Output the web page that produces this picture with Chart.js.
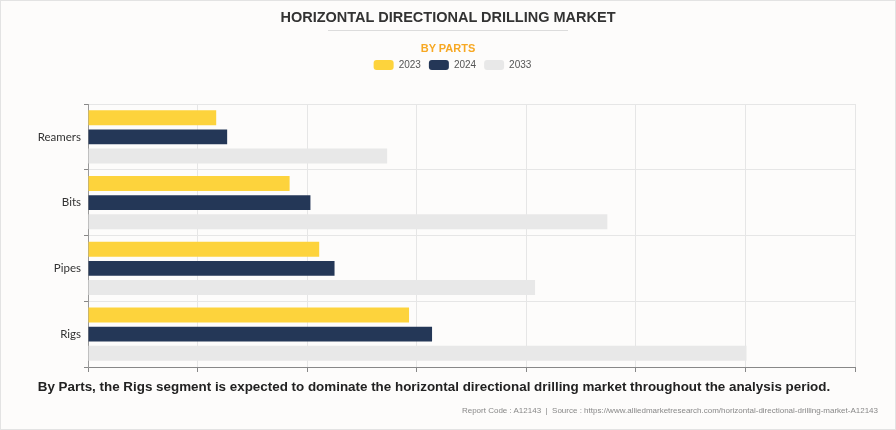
<!DOCTYPE html>
<html>
<head>
<meta charset="utf-8">
<script src="https://cdn.jsdelivr.net/npm/chart.js@4.4.0/dist/chart.umd.min.js"></script>
<style>
html, body { margin: 0; padding: 0; }
body { width: 896px; height: 430px; background: #fdfcfb; position: relative; overflow: hidden; font-family: "Liberation Sans", Arial, sans-serif; }
#frame { position: absolute; left: 0; top: 0; width: 894px; height: 428px; border: 1px solid #e3e3e3; }
#chart { position: absolute; left: 0; top: 0; }
#title { position: absolute; top: 7px; left: 0; width: 896px; line-height: 20px; text-align: center; font-weight: bold; font-size: 14.5px; color: #333; }
#rule { position: absolute; top: 30px; left: 328px; width: 240px; height: 1px; background: #dcdcdc; }
#sub { position: absolute; top: 41px; left: 0; width: 896px; line-height: 14px; text-align: center; font-weight: bold; font-size: 11px; color: #f7a823; }
#caption { position: absolute; top: 377px; left: 0; width: 868px; line-height: 20px; text-align: center; font-weight: bold; font-size: 13.4px; color: #222; }
#source { position: absolute; top: 405px; right: 18px; line-height: 12px; font-size: 8px; color: #888; }
</style>
</head>
<body>
<div id="frame"></div>
<canvas id="chart" width="896" height="430"></canvas>
<div id="title">HORIZONTAL DIRECTIONAL DRILLING MARKET</div>
<div id="rule"></div>
<div id="sub">BY PARTS</div>
<div id="caption">By Parts, the Rigs segment is expected to dominate the horizontal directional drilling market throughout the analysis period.</div>
<div id="source">Report Code : A12143 &nbsp;|&nbsp; Source : https://www.alliedmarketresearch.com/horizontal-directional-drilling-market-A12143</div>
<script>
// values (axis has no labels, units are relative)
var parts = ['Reamers', 'Bits', 'Pipes', 'Rigs'];
var years = ['2023', '2024', '2033'];
var values2023 = [1.17, 1.84, 2.11, 2.93];
var values2024 = [1.27, 2.03, 2.25, 3.14];
var values2033 = [2.73, 4.74, 4.08, 6.01];
var xMax = 7;

var ctx = document.getElementById('chart').getContext('2d');

// push the plot down below the legend, and center legend on the page
var legendGap = {
    id: 'legendGap',
    beforeInit: function (chart) {
        var fit = chart.legend.fit;
        chart.legend.fit = function () {
            fit.bind(chart.legend)();
            this.height += 24;
        };
    },
    afterLayout: function (chart) {
        chart.legend.left += 25;
        chart.legend.right += 25;
    }
};

var barData = {
    labels: parts,
    datasets: [{
        label: years[0],
        data: values2023,
        backgroundColor: '#fdd33c'
    }, {
        label: years[1],
        data: values2024,
        backgroundColor: '#243757'
    }, {
        label: years[2],
        data: values2033,
        backgroundColor: '#e8e8e8'
    }]
};

var marketChart = new Chart(ctx, {
    type: 'bar',
    data: barData,
    plugins: [legendGap],
    options: {
        indexAxis: 'y',
        responsive: false,
        animation: false,
        layout: {
            padding: { top: 52, left: 0, right: 41, bottom: 58 }
        },
        datasets: {
            bar: {
                categoryPercentage: 0.87,
                barPercentage: 0.78
            }
        },
        plugins: {
            legend: {
                display: true,
                position: 'top',
                labels: {
                    boxWidth: 20,
                    boxHeight: 10,
                    padding: 8,
                    useBorderRadius: true,
                    borderRadius: 3,
                    color: '#555',
                    font: { family: '"Liberation Sans", Arial, sans-serif', size: 10 }
                }
            },
            tooltip: { enabled: false }
        },
        scales: {
            x: {
                min: 0,
                max: xMax,
                ticks: { stepSize: 1, display: false },
                grid: { color: '#e6e6e6', tickColor: '#888', tickLength: 5 },
                border: { color: '#888', width: 1 }
            },
            y: {
                ticks: {
                    color: '#333',
                    padding: 3,
                    font: { family: 'Lato, "Liberation Sans", sans-serif', size: 11.5 }
                },
                grid: { color: '#e6e6e6', tickColor: '#888', tickLength: 4 },
                border: { color: '#999', width: 1 },
                afterFit: function (scale) {
                    scale.width = 88;
                }
            }
        }
    }
});
</script>
</body>
</html>
